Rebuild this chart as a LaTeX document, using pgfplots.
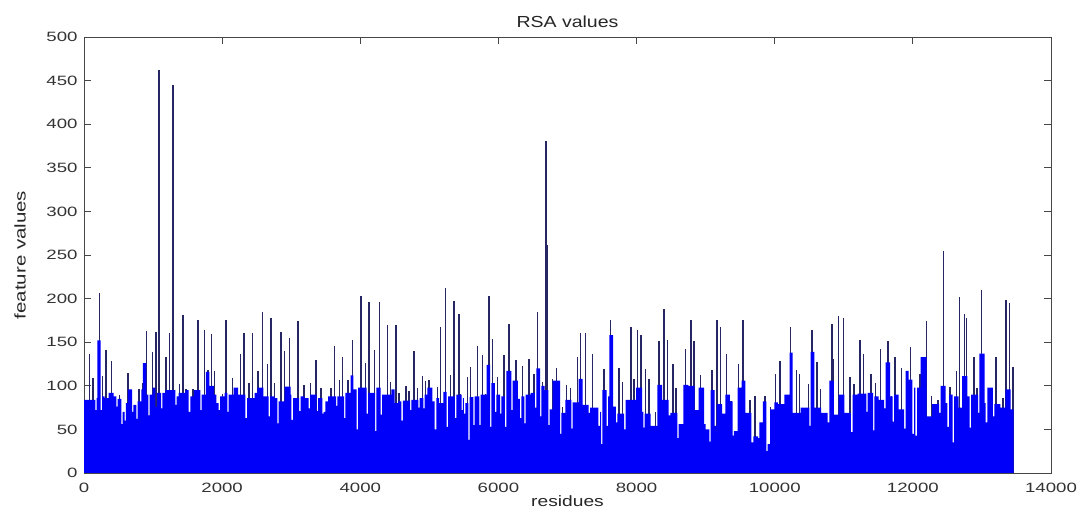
\documentclass[border=0pt]{standalone}
\usepackage{pgfplots}
\pgfplotsset{compat=1.18}
\usepackage{pgfplotstable}
\usepackage{fontspec}
\setmainfont{Liberation Sans}
\newfontfamily\tickfont[FakeStretch=1.38]{Liberation Sans}
\newfontfamily\titlefont[FakeStretch=1.22]{Liberation Sans}
\newfontfamily\labfont[FakeStretch=1.28]{Liberation Sans}
\newfontfamily\ylabfont[FakeStretch=1.32]{Liberation Sans}

\definecolor{barblue}{RGB}{0,0,250}
\definecolor{edgenavy}{RGB}{38,38,100}
\definecolor{axgray}{RGB}{70,70,70}

% body of the bars (const plot, value holds until next x)
\pgfplotstableread{
x y
0 84
164 72
183 86
193 152
241 72
261 88
299 86
357 92
429 88
468 76
487 85
540 56
560 70
589 60
608 80
637 96
695 70
714 78
758 62
777 82
830 96
854 126
902 90
931 66
951 90
994 98
1033 76
1057 92
1115 74
1134 92
1178 95
1322 78
1342 88
1370 92
1467 95
1515 70
1539 88
1592 95
1684 72
1703 90
1766 116
1814 100
1882 90
1916 80
1950 72
1969 88
2037 92
2075 70
2094 90
2167 98
2230 90
2336 63
2360 86
2471 92
2510 98
2597 88
2674 65
2693 88
2761 86
2799 57
2819 82
2906 99
2992 90
3002 61
3026 86
3113 71
3137 88
3195 86
3253 74
3272 90
3369 71
3388 86
3451 68
3470 70
3494 82
3533 88
3649 77
3668 88
3765 63
3784 92
3861 112
3900 96
3948 50
3967 98
4093 68
4112 92
4213 48
4232 98
4295 67
4315 90
4450 96
4498 80
4546 82
4594 60
4618 83
4720 72
4739 84
4840 75
4860 86
4913 74
4932 90
4971 98
5043 82
5077 50
5101 86
5140 80
5202 93
5250 53
5270 88
5371 63
5390 90
5468 72
5487 86
5501 68
5521 80
5564 38
5584 87
5637 55
5656 88
5723 55
5743 90
5830 124
5878 53
5897 103
5950 70
5970 90
6023 68
6042 88
6095 53
6114 117
6187 72
6206 106
6283 85
6312 63
6332 88
6375 57
6394 90
6467 92
6529 75
6549 120
6602 65
6621 100
6669 95
6722 55
6742 73
6786 106
6892 45
6911 69
6969 84
7056 51
7075 81
7162 108
7220 78
7307 69
7326 75
7447 54
7471 70
7485 33
7505 95
7567 54
7587 88
7606 158
7659 76
7702 58
7722 68
7818 50
7842 84
7992 98
8079 70
8098 52
8118 68
8204 54
8301 101
8369 84
8465 66
8489 69
8590 40
8610 56
8677 101
8750 100
8841 72
8899 98
8977 56
9001 50
9053 36
9073 95
9130 54
9159 79
9237 68
9285 90
9352 82
9391 43
9410 48
9463 98
9521 106
9574 69
9661 35
9690 42
9758 40
9777 58
9830 82
9879 25
9898 33
9932 73
9994 81
10047 79
10139 90
10216 138
10260 69
10376 75
10501 54
10520 139
10573 75
10670 69
10766 58
10791 106
10858 67
10926 90
11008 69
11104 47
11128 90
11201 91
11327 70
11346 92
11423 49
11443 88
11505 84
11583 74
11607 127
11669 88
11708 59
11727 90
11795 73
11872 51
11896 117
11940 107
11993 45
12017 98
12036 43
12060 98
12113 133
12200 65
12277 79
12379 69
12403 100
12475 80
12500 53
12524 90
12577 35
12596 88
12664 75
12712 111
12789 88
12823 52
12842 90
12944 69
12963 137
13040 80
13054 58
13079 98
13160 65
13180 79
13267 75
13339 96
13416 73
13460 73
}\bodytable

% single tall residues standing out of the body
\pgfplotstableread{
x y
77 136
130 109
222 206
270 111
318 141
396 129
512 89
637 115
800 96
854 103
902 163
994 139
1043 162
1085 462
1187 133
1235 160
1289 445
1380 102
1433 181
1477 96
1578 96
1650 175
1747 164
1795 118
1843 159
1892 117
2008 91
2060 176
2152 109
2191 97
2268 137
2317 161
2389 103
2442 160
2520 117
2582 185
2655 125
2708 178
2756 103
2853 162
2901 140
2973 155
3094 174
3186 101
3282 103
3359 130
3432 97
3572 97
3625 146
3697 107
3745 133
3818 107
3885 152
4011 203
4078 126
4127 196
4204 141
4276 196
4392 170
4440 104
4518 170
4560 92
4662 100
4705 94
4778 140
4826 98
4898 111
4946 106
4995 107
5115 99
5164 167
5236 212
5308 112
5357 197
5429 182
5453 91
5550 110
5598 121
5695 146
5767 135
5815 91
5864 203
5912 154
5984 110
6081 135
6153 171
6250 130
6346 123
6443 131
6515 113
6563 185
6636 104
6689 381
6708 262
6780 108
6843 120
6930 76
6988 101
7046 97
7143 133
7191 160
7263 161
7360 136
7529 119
7625 175
7746 120
7794 104
7915 167
7963 108
8011 164
8060 158
8132 119
8180 108
8272 70
8325 151
8397 188
8446 153
8523 125
8571 98
8711 142
8784 175
8832 151
8928 112
9092 118
9164 175
9213 167
9304 136
9367 82
9473 125
9545 175
9642 84
9714 88
9859 88
9941 76
10009 114
10076 128
10226 167
10318 118
10361 114
10487 102
10540 164
10612 127
10660 96
10829 171
10848 131
10921 180
10993 178
11090 110
11152 102
11235 153
11283 136
11288 135
11394 113
11457 103
11529 142
11640 151
11689 88
11737 133
11833 120
11964 145
12075 98
12104 113
12195 174
12268 88
12364 84
12442 255
12538 99
12630 117
12678 202
12750 182
12775 178
12881 133
12929 98
12992 210
13204 133
13301 86
13349 198
13397 195
13450 121
}\spiketable

\begin{document}
\begin{tikzpicture}
\useasboundingbox (0,0) rectangle (1088bp,509bp);
\begin{axis}[
    at={(84bp,36bp)}, anchor=south west,
    scale only axis,
    width=967bp, height=436bp,
    xmin=0, xmax=14000,
    ymin=0, ymax=500,
    xtick={0,2000,...,14000},
    ytick={0,50,...,500},
    scaled x ticks=false,
    /pgf/number format/assume math mode=true,
    /pgf/number format/set thousands separator={},
    tick align=inside,
    xtick pos=both, ytick pos=both,
    major tick length=7bp,
    axis line style={axgray, line width=0.9bp},
    tick style={axgray, line width=0.9bp},
    xticklabel style={font=\tickfont\fontsize{13.5bp}{14bp}\selectfont, text=black!80, anchor=center, yshift=-15bp},
    yticklabel style={font=\tickfont\fontsize{13.5bp}{14bp}\selectfont, text=black!80, xshift=-3bp},
    title={RSA values},
    title style={font=\titlefont\fontsize{16bp}{17bp}\selectfont, text=black!85, at={(axis description cs:0.5,1.022)}, anchor=center},
    xlabel={residues},
    xlabel style={font=\labfont\fontsize{15bp}{16bp}\selectfont, text=black!85, at={(axis description cs:0.5,-0.064)}, anchor=center},
    ylabel={feature values},
    ylabel style={font=\ylabfont\fontsize{15.5bp}{16bp}\selectfont, text=black!85, at={(axis description cs:-0.066,0.5)}, anchor=center},
]
\addplot[ycomb, edgenavy, line width=1.6bp, mark=none] table {\spiketable};
\addplot[const plot, fill=barblue, draw=none, mark=none] table {\bodytable} \closedcycle;
\end{axis}
\end{tikzpicture}
\end{document}
